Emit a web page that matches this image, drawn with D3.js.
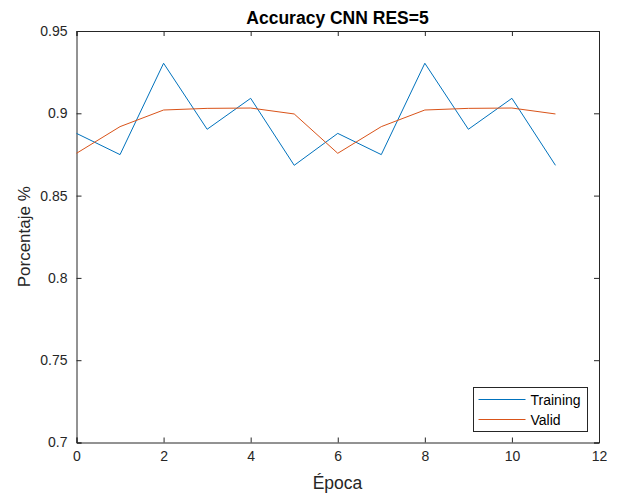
<!DOCTYPE html>
<html>
<head>
<meta charset="utf-8">
<script src="https://cdn.jsdelivr.net/npm/d3@7"></script>
<style>
  body { margin: 0; background: #fff; }
  svg { display: block; font-family: "Liberation Sans", Arial, sans-serif; }
</style>
</head>
<body>
<svg id="chart" width="621" height="498"></svg>
<script>
// Accuracy per epoch
const epochs = [0, 1, 2, 3, 4, 5, 6, 7, 8, 9, 10, 11];
const training = [0.8878, 0.8749, 0.9304, 0.8903, 0.9091, 0.8684, 0.8878, 0.8749, 0.9304, 0.8903, 0.9091, 0.8684];
const valid = [0.8757, 0.8919, 0.9020, 0.9030, 0.9032, 0.8996, 0.8757, 0.8919, 0.9020, 0.9030, 0.9032, 0.8996];
const xTicks = [0, 2, 4, 6, 8, 10, 12];
const yTicks = [0.7, 0.75, 0.8, 0.85, 0.9, 0.95];
const seriesNames = ["Training", "Valid"];
const seriesColors = ["#0072BD", "#D95319"];

const svg = d3.select("#chart");
const m = { left: 76.5, right: 599, top: 31, bottom: 442.5 };
const axisColor = "#262626";

const x = d3.scaleLinear().domain([0, 12]).range([m.left, m.right]);
const y = d3.scaleLinear().domain([0.7, 0.95]).range([m.bottom, m.top]);

const fmtY = d => d3.format("")(+d.toFixed(2));

// bottom and top axes with inward ticks
const tickLen = 5;
const gb = svg.append("g").attr("transform", `translate(0,${m.bottom})`)
  .call(d3.axisBottom(x).tickValues(xTicks).tickSize(-tickLen).tickPadding(9).tickFormat(d3.format("d")));
const gt = svg.append("g").attr("transform", `translate(0,${m.top})`)
  .call(d3.axisTop(x).tickValues(xTicks).tickSize(-tickLen).tickFormat(""));
const gl = svg.append("g").attr("transform", `translate(${m.left},0)`)
  .call(d3.axisLeft(y).tickValues(yTicks).tickSize(-tickLen).tickPadding(9).tickFormat(fmtY));
const gr = svg.append("g").attr("transform", `translate(${m.right},0)`)
  .call(d3.axisRight(y).tickValues(yTicks).tickSize(-tickLen).tickFormat(""));

[gb, gt, gl, gr].forEach(g => {
  g.select(".domain").attr("stroke", axisColor).attr("stroke-width", 1);
  g.selectAll(".tick line").attr("stroke", axisColor);
  g.selectAll(".tick text").attr("fill", axisColor).style("font-size", "14px")
    .style("font-family", "'Liberation Sans', Arial, sans-serif");
});

// data lines
const line = d3.line().x((d, i) => x(epochs[i])).y(d => y(d));
[training, valid].forEach((s, k) => {
  svg.append("path").datum(s)
    .attr("fill", "none")
    .attr("stroke", seriesColors[k])
    .attr("stroke-width", 1)
    .attr("d", line);
});

// title and axis labels
svg.append("text").attr("x", 337.5).attr("y", 24)
  .attr("text-anchor", "middle").attr("font-weight", "bold").attr("font-size", 17.5)
  .attr("fill", "#000").text("Accuracy CNN RES=5");
svg.append("text").attr("x", 337.5).attr("y", 489)
  .attr("text-anchor", "middle").attr("font-size", 17.5).attr("fill", axisColor).text("Época");
svg.append("text").attr("transform", `translate(30,${(m.top + m.bottom) / 2}) rotate(-90)`)
  .attr("text-anchor", "middle").attr("font-size", 17).attr("fill", axisColor).text("Porcentaje %");

// legend
const lg = svg.append("g").attr("transform", "translate(473.5,387.5)");
lg.append("rect").attr("width", 114).attr("height", 44)
  .attr("fill", "#fff").attr("stroke", axisColor).attr("stroke-width", 1);
seriesNames.forEach((name, k) => {
  const ly = 12 + k * 20;
  lg.append("line").attr("x1", 5).attr("x2", 52).attr("y1", ly).attr("y2", ly)
    .attr("stroke", seriesColors[k]).attr("stroke-width", 1);
  lg.append("text").attr("x", 57).attr("y", ly + 5).attr("font-size", 14)
    .attr("fill", "#000").text(name);
});
</script>
</body>
</html>
